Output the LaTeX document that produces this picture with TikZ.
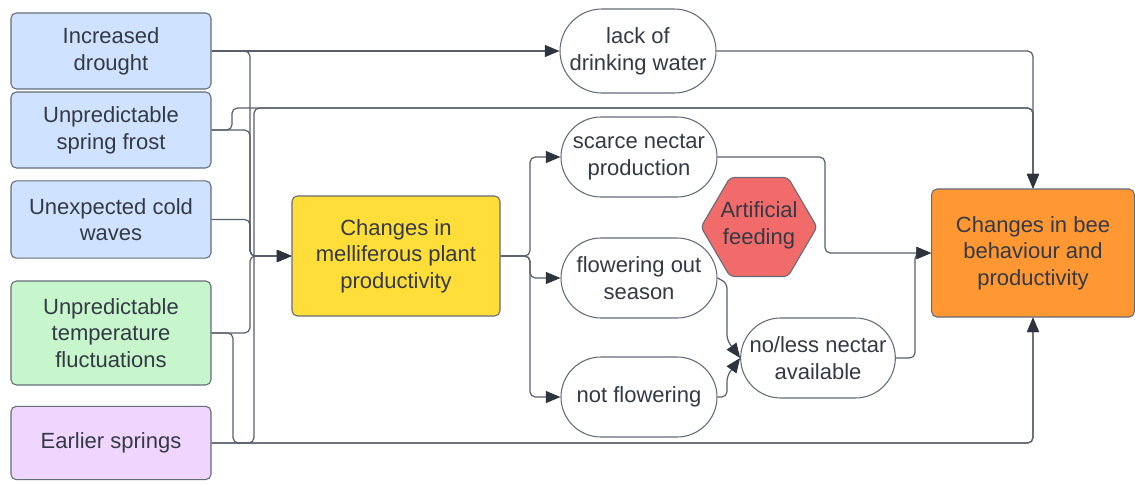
\documentclass[tikz,border=0pt]{standalone}
\usepackage{fontspec}
\setmainfont{Liberation Sans}
\usetikzlibrary{arrows.meta,shapes.misc}
\definecolor{ln}{RGB}{88,94,106}
\definecolor{arr}{RGB}{45,52,62}
\definecolor{bd}{RGB}{100,108,120}
\definecolor{tx}{RGB}{52,58,68}
\definecolor{bluef}{RGB}{207,226,255}
\definecolor{greenf}{RGB}{199,245,204}
\definecolor{purpf}{RGB}{240,214,255}
\definecolor{yelf}{RGB}{255,222,58}
\definecolor{oraf}{RGB}{255,152,51}
\definecolor{redf}{RGB}{242,107,107}
\tikzset{
  base/.style={draw=bd, line width=0.8pt, text=tx, align=center, inner sep=2pt,
    font=\fontsize{16.5}{20}\selectfont},
  cause/.style={base, rounded corners=4pt, minimum width=150pt},
  boxn/.style={base, rounded corners=4pt},
  pill/.style={base, rounded rectangle, fill=white, minimum width=121pt, minimum height=60pt},
  conn/.style={draw=ln, line width=0.9pt, rounded corners=4pt,
    -{Triangle[length=11pt,width=9pt,color=arr,fill=arr]}},
}
\begin{document}
\begin{tikzpicture}[x=0.75pt,y=-0.75pt]
\useasboundingbox (0,0) rectangle (1135,483);
% causes
\node[cause, fill=bluef, minimum height=57pt] (drought) at (111,51) {Increased\\drought};
\node[cause, fill=bluef, minimum height=57pt] (frost) at (111,130) {Unpredictable\\spring frost};
\node[cause, fill=bluef, minimum height=58pt] (cold) at (111,219.5) {Unexpected cold\\waves};
\node[cause, fill=greenf, minimum height=78pt] (temp) at (111,333) {Unpredictable\\temperature\\fluctuations};
\node[cause, fill=purpf, minimum height=55pt] (earlier) at (111,443) {Earlier springs};
% central
\node[boxn, fill=yelf, minimum width=156pt, minimum height=90pt] (plant) at (396,256) {Changes in\\melliferous plant\\productivity};
\node[boxn, fill=oraf, minimum width=152pt, minimum height=96pt] (bee) at (1033,253) {Changes in bee\\behaviour and\\productivity};
% pills
\node[pill, minimum height=63pt] (lack) at (638,51) {lack of\\drinking water};
\node[pill] (scarce) at (639,157) {scarce nectar\\production};
\node[pill] (flower) at (639,278) {flowering out\\season};
\node[pill] (notflow) at (639,397) {not flowering};
\node[pill, minimum width=120pt] (noless) at (818,358) {no/less nectar\\available};
% hexagon
\draw[draw=bd, line width=0.8pt, fill=redf, rounded corners=3pt]
  (701,227) -- (730,177.5) -- (788,177.5) -- (817,227) -- (788,276.5) -- (730,276.5) -- cycle;
\node[text=tx, align=center, font=\fontsize{16.5}{20}\selectfont] (feed) at (759,225) {Artificial\\feeding};
% connectors from causes
\draw[conn] (drought.east) -- (lack.west);
\draw[conn] (drought.east) -| (250,256) -- (plant.west);
\draw[conn] (frost.east) -| (250,256) -- (plant.west);
\draw[conn] (cold.east) -| (250,256) -- (plant.west);
\draw[conn] (temp.east) -| (250,256) -- (plant.west);
\draw[conn] (frost.east) -- (232,130) -- (232,108) -| (bee.north);
\draw[conn] (earlier.east) -- (254,443) -- (254,108) -| (bee.north);
\draw[conn] (temp.east) -- (233,333) -- (233,443) -| (bee.south);
\draw[conn] (earlier.east) -| (bee.south);
\draw[conn] (lack.east) -| (bee.north);
% from plant
\draw[conn] (plant.east) -- (530,256) |- (scarce.west);
\draw[conn] (plant.east) -- (530,256) |- (flower.west);
\draw[conn] (plant.east) -- (530,256) |- (notflow.west);
% to bee
\draw[conn] (scarce.east) -- (825,157) |- (bee.west);
\draw[conn] (noless.east) -- (915,358) |- (bee.west);
% to noless
\draw[conn] (flower.east) -- (727,283) -- (727,340) -- (noless.west);
\draw[conn] (notflow.east) -- (727,397) -- (727,376) -- (noless.west);
\end{tikzpicture}
\end{document}
